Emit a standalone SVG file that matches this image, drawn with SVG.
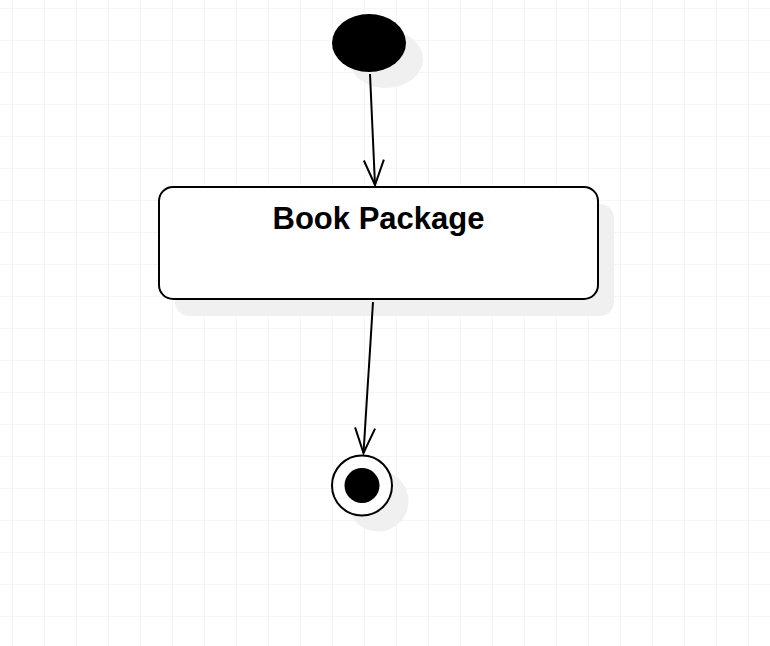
<svg xmlns="http://www.w3.org/2000/svg" width="770" height="646" viewBox="0 0 770 646">
<defs>
<pattern id="grid" x="12" y="8" width="32" height="32" patternUnits="userSpaceOnUse">
<path d="M0 0H32M0 0V32" fill="none" stroke="#ececec" stroke-width="1"/>
</pattern>
<marker id="open" markerUnits="userSpaceOnUse" viewBox="-26 -12 28 24" markerWidth="28" markerHeight="24" refX="0" refY="0" orient="auto">
<path d="M-25 -10L0 0L-25 10" fill="none" stroke="#000" stroke-width="2"/>
</marker>
<style>
.shadow{fill:#f0f0f0;stroke:none}
.node{fill:#fff;stroke:#000;stroke-width:2}
.edge{fill:none;stroke:#000;stroke-width:2;marker-end:url(#open)}
.label{font-family:"Liberation Sans",Arial,sans-serif;font-weight:bold;font-size:31px;fill:#000;text-anchor:middle}
</style>
</defs>
<rect width="770" height="646" fill="#fff"/>
<rect x="0" y="0" width="770" height="646" fill="url(#grid)"/>
<g id="initial">
<ellipse class="shadow" cx="386" cy="59" rx="37" ry="29"/>
<ellipse cx="369" cy="43" rx="37" ry="29" fill="#000"/>
</g>
<g id="book-package">
<rect class="shadow" x="175" y="204" width="439" height="112" rx="14"/>
<rect class="node" x="159" y="187" width="439" height="112" rx="14"/>
<text class="label" x="378.5" y="228.5">Book Package</text>
</g>
<g id="final">
<circle class="shadow" cx="378" cy="501" r="30.5"/>
<circle class="node" cx="362" cy="485.5" r="30"/>
<circle cx="362" cy="485.5" r="17.5" fill="#000"/>
</g>
<g id="connectors">
<line class="edge" x1="370" y1="74" x2="375" y2="185"/>
<line class="edge" x1="373" y1="302" x2="363.5" y2="453"/>
</g>
</svg>
